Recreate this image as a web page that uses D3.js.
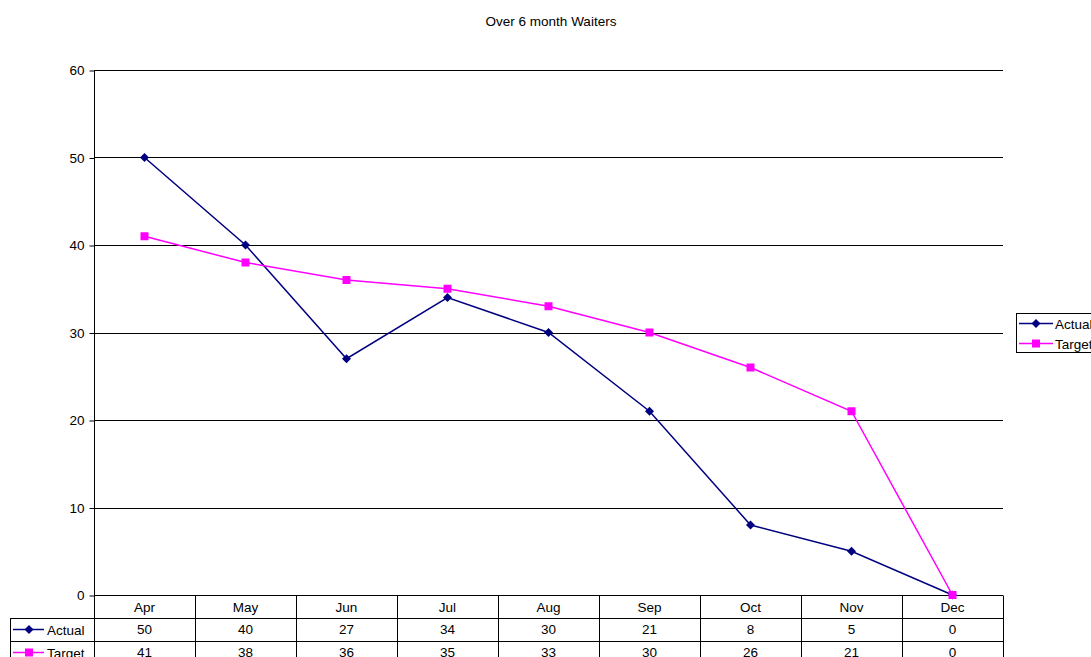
<!DOCTYPE html>
<html>
<head>
<meta charset="utf-8">
<script src="https://cdn.jsdelivr.net/npm/d3@7"></script>
<style>
  html, body { margin: 0; padding: 0; background: #fff; overflow: hidden; }
  svg { display: block; font-family: "Liberation Sans", Arial, sans-serif; }
</style>
</head>
<body>
<svg id="chart" width="1091" height="657"></svg>
<script>
// Monthly counts of patients waiting over six months
const months = ["Apr", "May", "Jun", "Jul", "Aug", "Sep", "Oct", "Nov", "Dec"];
const actual = [50, 40, 27, 34, 30, 21, 8, 5, 0];
const target = [41, 38, 36, 35, 33, 30, 26, 21, 0];
const yTicks = [0, 10, 20, 30, 40, 50, 60];
const seriesNames = ["Actual", "Target"];
const seriesColors = ["#000080", "#FF00FF"];

(function () {
const svg = d3.select("#chart");
const plotL = 94, plotR = 1003, plotT = 70, plotB = 595;
const fs = 13.5;

const x = d3.scaleBand().domain(months).range([plotL, plotR]);
const y = d3.scaleLinear().domain([0, 60]).range([plotB, plotT]);

function drawMarker(g, i, cx, cy) {
  if (i === 0) {
    g.append("path")
      .attr("d", `M${cx},${cy - 4.5}L${cx + 4.5},${cy}L${cx},${cy + 4.5}L${cx - 4.5},${cy}Z`)
      .attr("fill", seriesColors[i]);
  } else {
    g.append("rect").attr("x", cx - 4).attr("y", cy - 4).attr("width", 8).attr("height", 8)
      .attr("fill", seriesColors[i]);
  }
}

// Title
svg.append("text")
  .attr("x", 551).attr("y", 26)
  .attr("text-anchor", "middle")
  .attr("font-size", fs)
  .text("Over 6 month Waiters");

// Horizontal gridlines
svg.append("g").selectAll("line").data(yTicks.filter(d => d > 0)).join("line")
  .attr("x1", plotL).attr("x2", plotR)
  .attr("y1", d => Math.round(y(d)) + 0.5).attr("y2", d => Math.round(y(d)) + 0.5)
  .attr("stroke", "#000").attr("stroke-width", 1);

// Y axis
const yAxis = svg.append("g")
  .attr("transform", `translate(${plotL + 0.5},0.5)`)
  .call(d3.axisLeft(y).tickValues(yTicks).tickSize(5).tickPadding(5).tickFormat(d3.format("d")));
yAxis.select(".domain").attr("stroke", "#000").attr("d", `M0,${plotT}V${plotB}`);
yAxis.selectAll(".tick line").attr("stroke", "#000");
yAxis.selectAll(".tick text").attr("font-size", fs).attr("fill", "#000")
  .attr("font-family", "Liberation Sans, Arial, sans-serif");

// Data table beneath the plot
const rowH = 22.6;
const tbl = svg.append("g");
const tableTop = plotB + 0.5;
tbl.append("line").attr("x1", plotL).attr("x2", plotR)
  .attr("y1", tableTop).attr("y2", tableTop).attr("stroke", "#000");
for (let r = 1; r <= 3; r++) {
  const ly = Math.round(tableTop + r * rowH) + 0.5;
  tbl.append("line").attr("x1", 10).attr("x2", plotR)
    .attr("y1", ly).attr("y2", ly).attr("stroke", "#000");
}
const bounds = months.map(m => x(m)).concat([plotR]);
tbl.selectAll("line.v").data(bounds).join("line")
  .attr("class", "v")
  .attr("x1", d => Math.round(d) + 0.5).attr("x2", d => Math.round(d) + 0.5)
  .attr("y1", tableTop).attr("y2", tableTop + 4 * rowH)
  .attr("stroke", "#000");
tbl.append("line").attr("x1", 10.5).attr("x2", 10.5)
  .attr("y1", tableTop + rowH).attr("y2", tableTop + 4 * rowH).attr("stroke", "#000");

tbl.selectAll("text.h").data(months).join("text")
  .attr("class", "h")
  .attr("x", d => x(d) + x.bandwidth() / 2)
  .attr("y", tableTop + rowH / 2 + 5)
  .attr("text-anchor", "middle").attr("font-size", fs)
  .text(d => d);

[actual, target].forEach((vals, i) => {
  const rowY = tableTop + rowH * (i + 1);
  tbl.selectAll(`text.v${i}`).data(vals).join("text")
    .attr("class", `v${i}`)
    .attr("x", (d, j) => x(months[j]) + x.bandwidth() / 2)
    .attr("y", rowY + rowH / 2 + 5)
    .attr("text-anchor", "middle").attr("font-size", fs)
    .text(d => d);
  const cy = Math.round(rowY + rowH / 2) + 0.5;
  tbl.append("line").attr("x1", 13).attr("x2", 44).attr("y1", cy).attr("y2", cy)
    .attr("stroke", seriesColors[i]).attr("stroke-width", 1.5);
  drawMarker(tbl, i, 29, cy);
  tbl.append("text").attr("x", 47).attr("y", cy + 5).attr("font-size", fs)
    .text(seriesNames[i]);
});

// Series lines and markers
const line = d3.line()
  .x((d, j) => x(months[j]) + x.bandwidth() / 2)
  .y(d => y(d));

[actual, target].forEach((vals, i) => {
  svg.append("path").datum(vals)
    .attr("d", line)
    .attr("fill", "none")
    .attr("stroke", seriesColors[i])
    .attr("stroke-width", 1.5);
});
[actual, target].forEach((vals, i) => {
  const g = svg.append("g");
  vals.forEach((v, j) => drawMarker(g, i, x(months[j]) + x.bandwidth() / 2, y(v)));
});

// Legend on the right
const lg = svg.append("g");
lg.append("rect").attr("x", 1016.5).attr("y", 313.5).attr("width", 90).attr("height", 39)
  .attr("fill", "#fff").attr("stroke", "#000");
seriesNames.forEach((name, i) => {
  const cy = 323.5 + i * 20;
  lg.append("line").attr("x1", 1019).attr("x2", 1053).attr("y1", cy).attr("y2", cy)
    .attr("stroke", seriesColors[i]).attr("stroke-width", 1.5);
  drawMarker(lg, i, 1036, cy);
  lg.append("text").attr("x", 1055).attr("y", cy + 5).attr("font-size", fs).text(name);
});
})();
</script>
</body>
</html>
